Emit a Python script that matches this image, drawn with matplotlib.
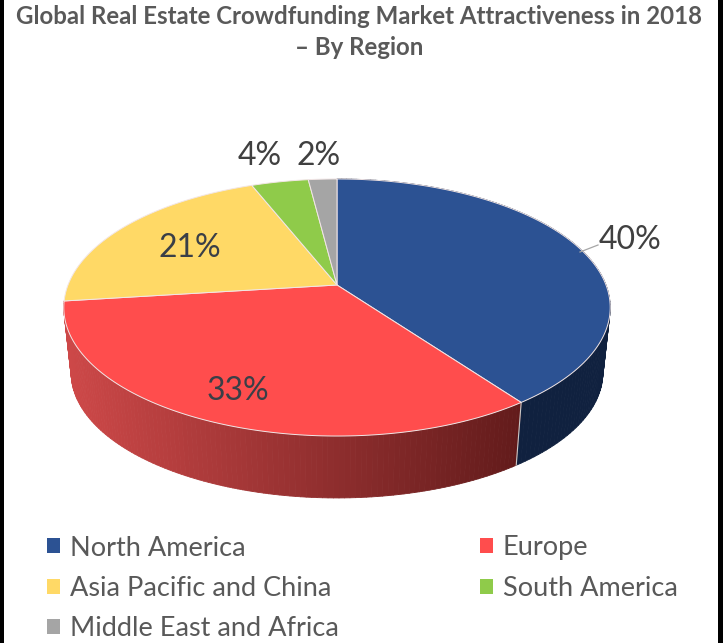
import numpy as np
import matplotlib
matplotlib.use("Agg")
import matplotlib.pyplot as plt
from matplotlib.patches import Polygon, Patch, Rectangle
from matplotlib.collections import PolyCollection

title = "Global Real Estate Crowdfunding Market Attractiveness in 2018\n\u2013 By Region"
regions = ["North America", "Europe", "Asia Pacific and China", "South America", "Middle East and Africa"]
shares = [40, 33, 21, 4, 2]
colors = ["#2C5293", "#FF4D4D", "#FFD966", "#8FCB4A", "#A5A5A5"]
value_labels = ["40%", "33%", "21%", "4%", "2%"]

plt.rcParams["font.family"] = ["Lato", "DejaVu Sans"]

W, H = 723, 643
fig = plt.figure(figsize=(W / 100, H / 100), dpi=100, facecolor="white")
ax = fig.add_axes([0, 0, 1, 1])
ax.set_xlim(0, W)
ax.set_ylim(H, 0)
ax.axis("off")

# Perspective view of the disc
CX, CY = 337, 285
RX, RY, PERSP = 269, 124.6, 0.175
BASE_SCALE, BASE_CY = 0.973, 351


def rim(theta_deg, scale=1.0, cy=CY):
    """Project clockwise-from-top angles onto the disc's rim."""
    t = np.radians(theta_deg)
    u, v = np.sin(t), np.cos(t)
    w = 1 + PERSP * v
    return np.column_stack([CX + scale * RX * u / w, cy - scale * RY * v / w])


edges = 3.6 * np.concatenate([[0], np.cumsum(shares)])

# Side wall, shaded from left to right under the front of the disc
wall_polys, wall_colors = [], []
wall_light = {1: np.array([205, 72, 72]) / 255, 0: np.array([16, 33, 63]) / 255}
wall_dark = {1: np.array([98, 27, 27]) / 255, 0: np.array([16, 33, 63]) / 255}
for i in (0, 1):
    angles = np.linspace(edges[i], edges[i + 1], 121)
    top = rim(angles)
    base = rim(angles, BASE_SCALE, BASE_CY)
    for j in range(len(angles) - 1):
        quad = np.vstack([top[j], top[j + 1], base[j + 1], base[j]])
        wall_polys.append(quad)
        frac = np.clip((quad[:, 0].mean() - 70) / (520 - 70), 0, 1)
        wall_colors.append(wall_light[i] * (1 - frac) + wall_dark[i] * frac)
ax.add_collection(PolyCollection(wall_polys, facecolors=wall_colors, edgecolors=wall_colors, linewidths=0.6, zorder=1))

# Seam between the blue and red walls
seam_top = rim(edges[1])[0]
seam_base = rim(edges[1], BASE_SCALE, BASE_CY)[0]
ax.plot([seam_top[0], seam_base[0]], [seam_top[1], seam_base[1]], color="#C9C9C9", lw=0.8, zorder=2)

# Top face
for i, color in enumerate(colors):
    arc = rim(np.linspace(edges[i], edges[i + 1], 200))
    pts = np.vstack([[CX, CY], arc])
    ax.add_patch(Polygon(pts, closed=True, facecolor=color, edgecolor="#F2E6E6", linewidth=0.7, zorder=3))

# Value labels
label_style = dict(ha="center", va="center", fontsize=23, color="#404040", zorder=5)
ax.text(630, 240, value_labels[0], **label_style)
ax.text(238, 391, value_labels[1], **{**label_style, "color": "#3A3F47"})
ax.text(190, 248, value_labels[2], **{**label_style, "color": "#3A3F47"})
ax.text(260, 156, value_labels[3], **label_style)
ax.text(319, 156, value_labels[4], **label_style)
ax.plot([580, 598], [252, 245], color="#A6A6A6", lw=0.9, zorder=4)

ax.text(359, 32, title, ha="center", va="center", fontsize=17.25, fontweight="bold", color="#595959", linespacing=1.45)

# Legend
handles = [Patch(facecolor=c, edgecolor="none") for c in colors]
order = [0, 2, 4, 1, 3]
leg = ax.legend(
    [handles[i] for i in order], [regions[i] for i in order],
    ncol=2, frameon=False, loc="upper left", bbox_to_anchor=(47 / W, 1 - 535.5 / H),
    fontsize=19.5, labelcolor="#595959", handlelength=0.48, handleheight=0.48, handletextpad=0.37,
    labelspacing=0.57, columnspacing=5.2, borderpad=0, borderaxespad=0,
)

# Dark strips down both sides of the image
ax.add_patch(Rectangle((0, 0), 4, H, facecolor="black", edgecolor="none", zorder=6))
ax.add_patch(Rectangle((W - 5, 0), 5, H, facecolor="black", edgecolor="none", zorder=6))

fig.savefig("out.png", dpi=100)
